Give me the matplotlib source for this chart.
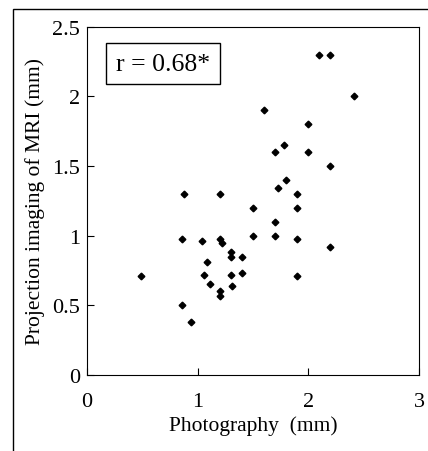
import matplotlib
matplotlib.use("Agg")
import matplotlib.pyplot as plt
from matplotlib.patches import Rectangle

plt.rcParams["font.family"] = ["Liberation Serif", "DejaVu Serif"]

# values
photography = [0.49, 0.86, 0.88, 0.86, 0.94, 1.04, 1.08, 1.06, 1.11, 1.20,
               1.20, 1.22, 1.20, 1.20, 1.30, 1.30, 1.30, 1.31, 1.40, 1.40,
               1.50, 1.50, 1.60, 1.70, 1.70, 1.70, 1.73, 1.78, 1.80, 1.90,
               1.90, 1.90, 1.90, 2.00, 2.00, 2.10, 2.20, 2.20, 2.20, 2.41]
mri = [0.71, 0.98, 1.30, 0.50, 0.38, 0.96, 0.81, 0.72, 0.65, 1.30,
       0.98, 0.95, 0.60, 0.57, 0.88, 0.85, 0.72, 0.64, 0.85, 0.73,
       1.20, 1.00, 1.90, 1.60, 1.10, 1.00, 1.34, 1.65, 1.40, 1.30,
       1.20, 0.98, 0.71, 1.80, 1.60, 2.30, 2.30, 1.50, 0.92, 2.00]
xticks = [0, 1, 2, 3]
yticks = [0, 0.5, 1, 1.5, 2, 2.5]
yticklabels = ["0", "0.5", "1", "1.5", "2", "2.5"]

fig = plt.figure(figsize=(4.28, 4.52), dpi=100)
ax = fig.add_axes([0.2033, 0.168, 0.7757, 0.7707])

ax.plot(photography, mri, "D", color="black", markersize=3.4, linestyle="none")

ax.set_xlim(0, 3)
ax.set_ylim(0, 2.5)
ax.set_xticks(xticks)
ax.set_yticks(yticks)
ax.set_yticklabels(yticklabels)
ax.tick_params(direction="in", length=5, labelsize=16, top=False, right=False)
ax.tick_params(axis="x", pad=12)
ax.tick_params(axis="y", pad=5)

ax.set_xlabel("Photography  (mm)", fontsize=15.5, labelpad=3)
ax.set_ylabel("Projection imaging of MRI (mm)", fontsize=15.5, labelpad=5)

ax.text(0.229, 0.894, "r = 0.68*", transform=ax.transAxes, fontsize=18.5,
        ha="center", va="center",
        bbox=dict(boxstyle="square,pad=0.38", facecolor="white", edgecolor="black", linewidth=1))

# outer frame of the figure panel
fig.patches.append(Rectangle((13 / 428, -0.1), 1.2, 1 - 10 / 452 + 0.1,
                             transform=fig.transFigure, fill=False,
                             edgecolor="black", linewidth=1))

fig.savefig("out.png", dpi=100)
